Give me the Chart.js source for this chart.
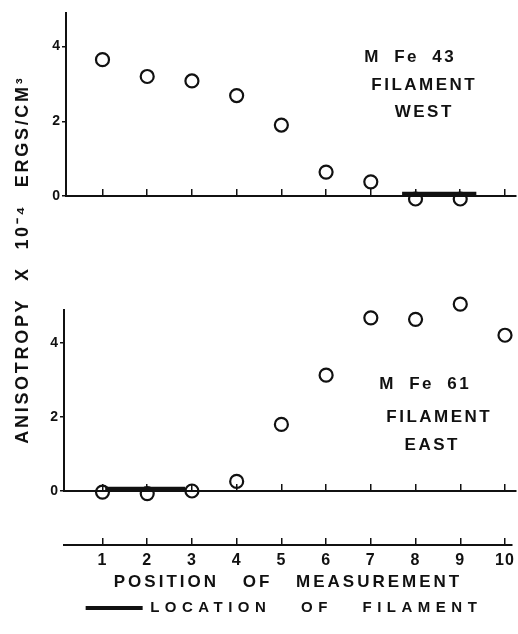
<!DOCTYPE html>
<html><head><meta charset="utf-8">
<script src="https://cdn.jsdelivr.net/npm/chart.js@4.4.1/dist/chart.umd.min.js"></script>
<style>
html,body{margin:0;padding:0;background:#fff;}
#wrap{position:relative;width:518px;height:634px;overflow:hidden;}
#wrap canvas{position:absolute;left:0;top:0;}
</style></head><body>
<div id="wrap">
<canvas id="cTop" width="518" height="634"></canvas>
<canvas id="cBot" width="518" height="634"></canvas>
<canvas id="cAxis" width="518" height="634"></canvas>
<canvas id="cLegend" width="518" height="634"></canvas>
</div>
<script>
// ---- data ----
const positions = [1, 2, 3, 4, 5, 6, 7, 8, 9, 10];
const xTickLabels = ['1', '2', '3', '4', '5', '6', '7', '8', '9', '10'];
const yTickValues = [0, 2, 4];
const yTickLabels = ['0', '2', '4'];
const westValues = [3.65, 3.2, 3.08, 2.69, 1.9, 0.64, 0.38, -0.08, -0.08];
const eastValues = [-0.03, -0.07, 0.0, 0.26, 1.8, 3.13, 4.68, 4.64, 5.05, 4.21];
const westFilamentX = [7.7, 9.36];
const eastFilamentX = [1.06, 2.85];
const filamentY = 0.05;
const westNotes = ['M Fe 43', 'FILAMENT', 'WEST'];
const eastNotes = ['M Fe 61', 'FILAMENT', 'EAST'];
const yTitle = 'ANISOTROPY X 10\u207B\u2074 ERGS/CM\u00B3';
const xTitle = 'POSITION OF MEASUREMENT';
const legendLabel = 'LOCATION OF FILAMENT';

const FAMILY = '"Liberation Sans", Arial, sans-serif';
const INK = '#111';

function zeroPad(s) { s.paddingLeft = 0; s.paddingRight = 0; s.paddingTop = 0; s.paddingBottom = 0; }

const notesPlugin = {
  id: 'notes',
  afterDraw(chart, args, opts) {
    if (!opts || !opts.items) return;
    const ctx = chart.ctx;
    ctx.save();
    ctx.fillStyle = INK;
    ctx.font = 'bold 17px ' + FAMILY;
    ctx.letterSpacing = '2.5px';
    ctx.wordSpacing = '6px';
    ctx.textAlign = 'center';
    ctx.textBaseline = 'middle';
    opts.items.forEach(n => ctx.fillText(n.text, n.x + 1.25, n.y));
    ctx.restore();
  }
};

function panel(id, values, filX, yMax, leftW, pad, xMin, xMax, notes) {
  return new Chart(document.getElementById(id), {
    type: 'scatter',
    data: {
      datasets: [
        {
          label: legendLabel,
          type: 'line',
          data: filX.map(x => ({x: x, y: filamentY})),
          borderColor: INK,
          borderWidth: 5,
          borderCapStyle: 'butt',
          pointRadius: 0,
          showLine: true,
          fill: false,
          clip: false
        },
        {
          label: 'anisotropy',
          data: values.map((v, i) => ({x: positions[i], y: v})),
          pointStyle: 'circle',
          pointRadius: 6.5,
          pointBorderWidth: 2.2,
          pointBorderColor: INK,
          pointBackgroundColor: 'rgba(0,0,0,0)',
          showLine: false,
          clip: false
        }
      ]
    },
    options: {
      responsive: false,
      animation: false,
      events: [],
      layout: {autoPadding: false, padding: pad},
      scales: {
        x: {
          type: 'linear', position: 'bottom', min: xMin, max: xMax,
          afterBuildTicks: s => { s.ticks = positions.map(v => ({value: v})); },
          afterFit: s => { s.height = 0; zeroPad(s); },
          ticks: {display: false},
          grid: {drawOnChartArea: false, drawTicks: true, tickLength: -7, color: INK, lineWidth: 1.5},
          border: {display: true, color: INK, width: 2}
        },
        y: {
          type: 'linear', min: 0, max: yMax,
          afterBuildTicks: s => { s.ticks = yTickValues.map(v => ({value: v})); },
          afterFit: s => { s.width = leftW; zeroPad(s); },
          ticks: {color: INK, font: {family: FAMILY, size: 14, weight: 'bold'}, padding: 2,
                  callback: (v, i) => yTickLabels[i]},
          grid: {drawOnChartArea: false, drawTicks: true, tickLength: 4, color: INK, lineWidth: 1.5},
          border: {color: INK, width: 2}
        }
      },
      plugins: {
        legend: {display: false},
        tooltip: {enabled: false},
        notes: {items: notes}
      }
    },
    plugins: [notesPlugin]
  });
}

panel('cTop', westValues, westFilamentX, 4.9, 66,
  {left: 0, top: 13, right: 2, bottom: 438}, 0.184, 10.247,
  [{text: westNotes[0], x: 409, y: 57}, {text: westNotes[1], x: 423, y: 85}, {text: westNotes[2], x: 423, y: 112}]);

panel('cBot', eastValues, eastFilamentX, 4.9, 64,
  {left: 0, top: 309.7, right: 2, bottom: 143}, 0.139, 10.246,
  [{text: eastNotes[0], x: 424, y: 384}, {text: eastNotes[1], x: 438, y: 417}, {text: eastNotes[2], x: 431, y: 445}]);

function setSpacing(ctx, ls, ws) { ctx.letterSpacing = ls + 'px'; ctx.wordSpacing = ws + 'px'; }

const axisSpacingPlugin = {
  id: 'axisSpacing',
  beforeLayout(chart) { setSpacing(chart.ctx, 3, 16); },
  beforeDraw(chart) { setSpacing(chart.ctx, 3, 16); },
  afterDatasetsDraw(chart) { setSpacing(chart.ctx, 1, 0); },
  afterDraw(chart) {
    const ctx = chart.ctx;
    ctx.save();
    ctx.translate(23, 261);
    ctx.rotate(-Math.PI / 2);
    ctx.fillStyle = INK;
    ctx.font = 'bold 18px ' + FAMILY;
    setSpacing(ctx, 2.7, 9);
    ctx.textAlign = 'center';
    ctx.textBaseline = 'middle';
    ctx.fillText(yTitle, 1.35, 0);
    ctx.restore();
  }
};

new Chart(document.getElementById('cAxis'), {
  type: 'scatter',
  data: {datasets: []},
  options: {
    responsive: false,
    animation: false,
    events: [],
    layout: {autoPadding: false, padding: {left: 53, right: 6, top: 500, bottom: 39.5}},
    scales: {
      x: {
        type: 'linear', position: 'bottom', min: 0.139, max: 10.157,
        afterBuildTicks: s => { s.ticks = positions.map(v => ({value: v})); },
        afterFit: s => { s.height = 49.5; zeroPad(s); },
        ticks: {z: 1, color: INK, font: {family: FAMILY, size: 16, weight: 'bold'}, padding: 13,
                maxRotation: 0, autoSkip: false, callback: (v, i) => xTickLabels[i]},
        grid: {drawOnChartArea: false, drawTicks: true, tickLength: -7, color: INK, lineWidth: 1.5},
        border: {display: true, color: INK, width: 2},
        title: {display: true, text: xTitle, color: INK,
                font: {family: FAMILY, size: 17, weight: 'bold'}, padding: {top: 0, bottom: 2}}
      },
      y: {
        display: true, min: 0, max: 1,
        afterFit: s => { s.width = 11; zeroPad(s); },
        ticks: {display: false},
        grid: {display: false},
        border: {display: false}
      }
    },
    plugins: {
      tooltip: {enabled: false},
      legend: {display: false}
    }
  },
  plugins: [axisSpacingPlugin]
});

const legendSpacingPlugin = {
  id: 'legendSpacing',
  beforeLayout(chart) { setSpacing(chart.ctx, 5.5, 20); },
  beforeDraw(chart) { setSpacing(chart.ctx, 5.5, 20); }
};

new Chart(document.getElementById('cLegend'), {
  type: 'scatter',
  data: {datasets: []},
  options: {
    responsive: false,
    animation: false,
    events: [],
    layout: {autoPadding: false, padding: {left: 50, right: 0, top: 0, bottom: 8.5}},
    scales: {x: {display: false}, y: {display: false}},
    plugins: {
      tooltip: {enabled: false},
      legend: {
        display: true, position: 'bottom',
        labels: {
          boxWidth: 57, boxHeight: 4, padding: 6, color: INK,
          font: {family: FAMILY, size: 15, weight: 'bold'},
          generateLabels: () => [{text: legendLabel, fillStyle: INK, strokeStyle: INK, lineWidth: 0, hidden: false, fontColor: INK}]
        }
      }
    }
  },
  plugins: [legendSpacingPlugin]
});
</script>
</body></html>
